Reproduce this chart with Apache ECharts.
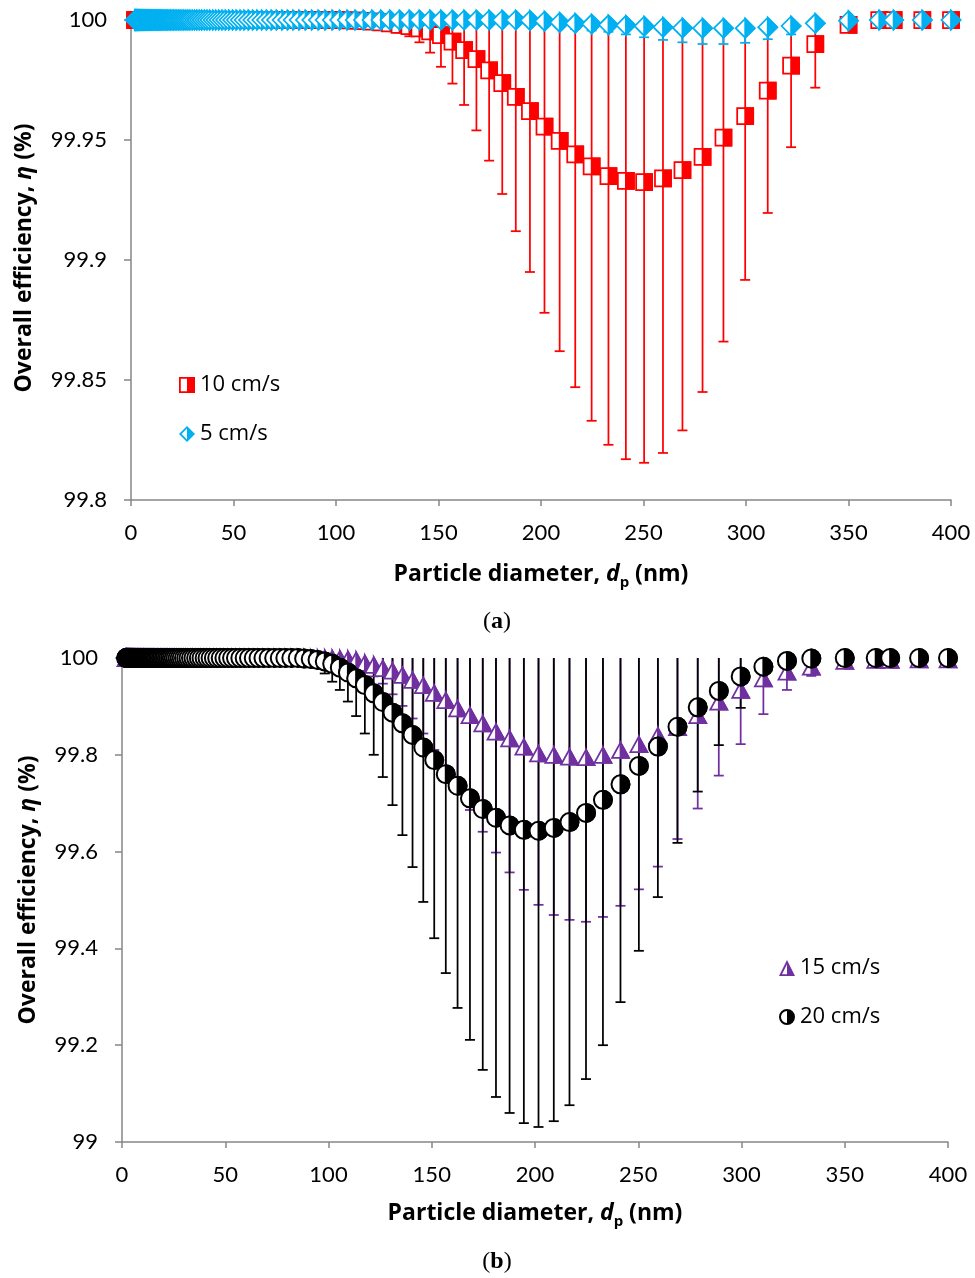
<!DOCTYPE html>
<html>
<head>
<meta charset="utf-8">
<script src="https://cdn.jsdelivr.net/npm/echarts@6/dist/echarts.min.js"></script>
<style>
  html, body { margin: 0; padding: 0; background: #fff; }
  #chart { width: 975px; height: 1278px; }
</style>
</head>
<body>
<div id="chart"></div>
<script>
// particle diameters (nm) where every series sits at 100 %
const dpLow = [
  2.02, 2.09, 2.17, 2.25, 2.33, 2.41, 2.50, 2.59, 2.69, 2.79,
  2.89, 3.00, 3.11, 3.22, 3.34, 3.46, 3.59, 3.72, 3.85, 4.00,
  4.14, 4.29, 4.45, 4.61, 4.78, 4.96, 5.14, 5.33, 5.52, 5.73,
  5.94, 6.15, 6.38, 6.61, 6.85, 7.10, 7.37, 7.64, 7.91, 8.20,
  8.51, 8.82, 9.14, 9.47, 9.82, 10.2, 10.6, 10.9, 11.3, 11.8,
  12.2, 12.6, 13.1, 13.6, 14.1, 14.6, 15.1, 15.7, 16.3, 16.8,
  17.5, 18.1, 18.8, 19.5, 20.2, 20.9, 21.7, 22.5, 23.3, 24.1,
  25.0, 25.9, 26.9, 27.9, 28.9, 30.0, 31.1, 32.2, 33.4, 34.6,
  35.9, 37.2, 38.5, 40.0, 41.4, 42.9, 44.5, 46.1, 47.8, 49.6,
  51.4, 53.3, 55.2, 57.3, 59.4, 61.5, 63.8, 66.1, 68.5, 71.0,
  73.7, 76.4, 79.1, 82.0, 85.1
];
const effLow = [
  100, 100, 100, 100, 100, 100, 100, 100, 100, 100, 100, 100, 100, 100, 100,
  100, 100, 100, 100, 100, 100, 100, 100, 100, 100, 100, 100, 100, 100, 100,
  100, 100, 100, 100, 100, 100, 100, 100, 100, 100, 100, 100, 100, 100, 100,
  100, 100, 100, 100, 100, 100, 100, 100, 100, 100, 100, 100, 100, 100, 100,
  100, 100, 100, 100, 100, 100, 100, 100, 100, 100, 100, 100, 100, 100, 100,
  100, 100, 100, 100, 100, 100, 100, 100, 100, 100, 100, 100, 100, 100, 100,
  100, 100, 100, 100, 100, 100, 100, 100, 100, 100, 100, 100, 100, 100, 100
];

// diameters (nm) of the dip region
const dpHigh = [
  88.2, 91.4, 94.7, 98.2, 101.8, 105.5, 109.4, 113.4, 117.6, 121.9,
  126.3, 131.0, 135.8, 140.7, 145.9, 151.2, 156.8, 162.5, 168.5, 174.7,
  181.1, 187.7, 194.6, 201.7, 209.1, 216.7, 224.7, 232.9, 241.4, 250.3,
  259.5, 269.0, 278.8, 289.0, 299.6, 310.6, 322.0, 333.8, 350, 365,
  372, 386, 400
];

// (a) 10 cm/s : efficiency and lower end of error bar
const eff10 = [
  100, 100, 100, 100, 99.9999, 99.9998, 99.9997, 99.9995, 99.9993, 99.999,
  99.9986, 99.998, 99.9974, 99.9965, 99.9953, 99.9937, 99.991, 99.9875, 99.9837, 99.979,
  99.9737, 99.968, 99.962, 99.9556, 99.9496, 99.944, 99.939, 99.935, 99.933, 99.9325,
  99.934, 99.9375, 99.943, 99.951, 99.96, 99.9706, 99.981, 99.99, 99.998, 100,
  100, 100, 100
];
const low10 = [
  100, 100, 100, 100, 99.9997, 99.9993, 99.9988, 99.9982, 99.9975, 99.9968,
  99.996, 99.9948, 99.9932, 99.9907, 99.9864, 99.9805, 99.9735, 99.9646, 99.954, 99.9414,
  99.9275, 99.912, 99.895, 99.878, 99.862, 99.847, 99.833, 99.823, 99.817, 99.8155,
  99.8196, 99.829, 99.845, 99.866, 99.8917, 99.9196, 99.947, 99.9718, 99.997, 100,
  100, 100, 100
];

// (a) 5 cm/s
const eff5 = [
  100, 100, 100, 100, 100, 100, 100, 100, 100, 100,
  100, 100, 100, 100, 100, 100, 100, 100, 100, 100,
  100, 100, 99.9998, 99.9995, 99.999, 99.9986, 99.9983, 99.998, 99.9978, 99.9974,
  99.997, 99.9967, 99.9966, 99.9966, 99.9966, 99.997, 99.9975, 99.9986, 99.9997, 100,
  100, 100, 100
];
const low5 = [
  100, 100, 100, 100, 100, 100, 100, 100, 100, 100,
  100, 100, 100, 100, 100, 100, 100, 100, 100, 100,
  99.9995, 99.999, 99.9985, 99.998, 99.997, 99.9962, 99.9956, 99.9951, 99.994, 99.9928,
  99.9917, 99.9907, 99.99, 99.99, 99.9905, 99.992, 99.994, 99.997, 99.9993, 100,
  100, 100, 100
];

// (b) 15 cm/s
const eff15 = [
  100, 100, 100, 100, 99.9995, 99.999, 99.998, 99.996, 99.99, 99.986,
  99.979, 99.974, 99.965, 99.955, 99.944, 99.928, 99.913, 99.896, 99.882, 99.865,
  99.848, 99.834, 99.817, 99.803, 99.8, 99.796, 99.795, 99.8, 99.81, 99.822,
  99.84, 99.857, 99.882, 99.91, 99.934, 99.958, 99.972, 99.982, 99.994, 99.996,
  99.996, 99.997, 99.997
];
const low15 = [
  100, 100, 100, 99.999, 99.998, 99.996, 99.993, 99.985, 99.975, 99.962,
  99.947, 99.925, 99.901, 99.875, 99.844, 99.81, 99.77, 99.728, 99.686, 99.641,
  99.598, 99.557, 99.521, 99.49, 99.469, 99.459, 99.455, 99.465, 99.488, 99.522,
  99.569, 99.626, 99.689, 99.757, 99.822, 99.884, 99.934, 99.963, 99.99, 99.994,
  99.994, 99.995, 99.995
];

// (b) 20 cm/s
const eff20 = [
  99.999, 99.998, 99.996, 99.993, 99.988, 99.98, 99.97, 99.958, 99.944, 99.927,
  99.909, 99.887, 99.865, 99.841, 99.815, 99.789, 99.76, 99.736, 99.71, 99.688,
  99.67, 99.654, 99.645, 99.643, 99.649, 99.661, 99.68, 99.707, 99.739, 99.777,
  99.817, 99.858, 99.898, 99.932, 99.962, 99.982, 99.994, 99.999, 100, 100,
  100, 100, 100
];
const low20 = [
  99.997, 99.993, 99.985, 99.968, 99.951, 99.934, 99.91, 99.88, 99.844, 99.8,
  99.754, 99.696, 99.634, 99.568, 99.496, 99.421, 99.349, 99.277, 99.211, 99.149,
  99.093, 99.06, 99.039, 99.031, 99.043, 99.076, 99.13, 99.2, 99.289, 99.395,
  99.506, 99.618, 99.724, 99.82, 99.897, 99.95, 99.985, 99.998, 100, 100,
  100, 100, 100
];

const xTicks = { min: 0, max: 400, interval: 50 };
const yTicksA = { min: 99.8, max: 100, interval: 0.05 };
const yTicksB = { min: 99, max: 100, interval: 0.2 };

const RED = '#FF0000', BLUE = '#00B0F0', PURPLE = '#7030A0', BLACK = '#000000';
const AXIS = '#868686';
const FONT = 'Lato, "Open Sans", sans-serif';
const TFONT = '"Open Sans", Lato, sans-serif';

function points(eff) {
  return dpLow.map((d, i) => [d, effLow[i]]).concat(dpHigh.map((d, i) => [d, eff[i]]));
}
// error bars: [d, lower, upper]; symmetric, the upper half is cut by the grid
function bars(eff, low) {
  const out = [];
  dpHigh.forEach((d, i) => {
    if (low[i] < eff[i]) out.push([d, low[i], 2 * eff[i] - low[i]]);
  });
  return out;
}

function barRender(color) {
  return function (params, api) {
    const lo = api.coord([api.value(0), api.value(1)]);
    const hi = api.coord([api.value(0), api.value(2)]);
    const st = { stroke: color, lineWidth: 1.75 };
    return {
      type: 'group',
      children: [
        { type: 'line', shape: { x1: lo[0], y1: hi[1], x2: lo[0], y2: lo[1] }, style: st },
        { type: 'line', shape: { x1: lo[0] - 5, y1: lo[1], x2: lo[0] + 5, y2: lo[1] }, style: st }
      ]
    };
  };
}

function markerRender(kind, color) {
  return function (params, api) {
    const c = api.coord([api.value(0), api.value(1)]);
    const x = c[0], y = c[1];
    const w = { stroke: color, lineWidth: 1.75, fill: '#fff' };
    const f = { stroke: color, lineWidth: 1.75, fill: color };
    let whole, half;
    if (kind === 'square') {
      whole = { type: 'rect', shape: { x: x - 8, y: y - 8, width: 16, height: 16 }, style: w };
      half = { type: 'rect', shape: { x: x, y: y - 8, width: 8, height: 16 }, style: f };
    } else if (kind === 'diamond') {
      whole = { type: 'polygon', shape: { points: [[x, y - 9.5], [x + 9.5, y], [x, y + 9.5], [x - 9.5, y]] }, style: w };
      half = { type: 'polygon', shape: { points: [[x, y - 9.5], [x + 9.5, y], [x, y + 9.5]] }, style: f };
    } else if (kind === 'triangle') {
      whole = { type: 'polygon', shape: { points: [[x, y - 7.5], [x + 8.5, y + 8], [x - 8.5, y + 8]] }, style: w };
      half = { type: 'polygon', shape: { points: [[x, y - 7.5], [x + 8.5, y + 8], [x, y + 8]] }, style: f };
    } else {
      whole = { type: 'circle', shape: { cx: x, cy: y, r: 9 }, style: { stroke: color, lineWidth: 2, fill: '#fff' } };
      half = {
        type: 'sector',
        shape: { cx: x, cy: y, r: 9, r0: 0, startAngle: -Math.PI / 2, endAngle: Math.PI / 2, clockwise: true },
        style: { stroke: color, lineWidth: 2, fill: color }
      };
    }
    return { type: 'group', children: [whole, half] };
  };
}

// legend icons: outline + filled right half (left half is a hole)
const ICON_SQ = 'path://M0,0L16,0L16,16L0,16Z M1.8,1.8L1.8,14.2L8,14.2L8,1.8Z';
const ICON_DI = 'path://M8,0L16,8L8,16L0,8Z M8,2.6L2.6,8L8,13.4Z';
const ICON_TRI = 'path://M8,0L16,16L0,16Z M8,4.2L3,14.3L8,14.3Z';
const ICON_CI = 'path://M8,0A8,8 0 1,1 8,16A8,8 0 1,1 8,0Z M8,2A6,6 0 0,0 8,14Z';

function xAxis(grid) {
  return {
    gridIndex: grid, type: 'value', min: xTicks.min, max: xTicks.max, interval: xTicks.interval,
    axisLine: { show: true, onZero: false, lineStyle: { color: AXIS, width: 1.5 } },
    axisTick: { show: true, length: 6, lineStyle: { color: AXIS, width: 1.5 } },
    axisLabel: { fontSize: 22, color: '#000', fontFamily: FONT, margin: 22 },
    splitLine: { show: false }
  };
}
function yAxis(grid, t) {
  return {
    gridIndex: grid, type: 'value', min: t.min, max: t.max, interval: t.interval,
    axisLine: { show: true, onZero: false, lineStyle: { color: AXIS, width: 1.5 } },
    axisTick: { show: true, length: 7, lineStyle: { color: AXIS, width: 1.5 } },
    axisLabel: { fontSize: 22, color: '#000', fontFamily: FONT, margin: 24,
      formatter: v => String(+v.toFixed(2)) },
    splitLine: { show: false }
  };
}

const titleRich = {
  i: { fontStyle: 'italic', fontWeight: 'bold', fontSize: 23, fontFamily: TFONT, fill: '#000', lineHeight: 32 },
  s: { fontWeight: 'bold', fontSize: 15, fontFamily: TFONT, fill: '#000', verticalAlign: 'bottom', lineHeight: 15 }
};
function label(x, y, text, rot) {
  return {
    type: 'text', x: x, y: y, rotation: rot || 0,
    style: { text: text, rich: titleRich, fontSize: 23, fontWeight: 'bold', fontFamily: TFONT,
      lineHeight: 32, fill: '#000', align: 'center', verticalAlign: 'middle' }
  };
}
function panel(x, y, letter) {
  return {
    type: 'text', x: x, y: y,
    style: { text: '({b|' + letter + '})', fontSize: 24, fontFamily: '"Liberation Serif", serif',
      fill: '#000', align: 'center', verticalAlign: 'middle',
      rich: { b: { fontSize: 24, fontWeight: 'bold', fontFamily: '"Liberation Serif", serif', fill: '#000' } } }
  };
}

const legendBase = {
  orient: 'vertical', itemGap: 27, itemWidth: 16, itemHeight: 16, selectedMode: false,
  textStyle: { fontSize: 22, color: '#000', fontFamily: TFONT }
};

const chart = echarts.init(document.getElementById('chart'), null, { renderer: 'canvas' });
chart.setOption({
  animation: false,
  backgroundColor: '#fff',
  grid: [
    { left: 131, top: 20, width: 820, height: 480 },
    { left: 122, top: 658, width: 826, height: 484 }
  ],
  xAxis: [xAxis(0), xAxis(1)],
  yAxis: [yAxis(0, yTicksA), yAxis(1, yTicksB)],
  legend: [
    Object.assign({}, legendBase, { left: 174, top: 369,
      data: [{ name: '10 cm/s', icon: ICON_SQ }, { name: '5 cm/s', icon: ICON_DI }] }),
    Object.assign({}, legendBase, { left: 774, top: 952,
      data: [{ name: '15 cm/s', icon: ICON_TRI }, { name: '20 cm/s', icon: ICON_CI }] })
  ],
  graphic: [
    label(541, 574, 'Particle diameter, {i|d}{s|p} (nm)'),
    label(24, 258, 'Overall efficiency, {i|η} (%)', Math.PI / 2),
    panel(497, 622, 'a'),
    label(535, 1213, 'Particle diameter, {i|d}{s|p} (nm)'),
    label(28, 890, 'Overall efficiency, {i|η} (%)', Math.PI / 2),
    panel(497, 1262, 'b')
  ],
  series: [
    { type: 'custom', name: 'err10', xAxisIndex: 0, yAxisIndex: 0, clip: true,
      renderItem: barRender(RED), data: bars(eff10, low10), encode: { x: 0, y: [1, 2] } },
    { type: 'custom', name: 'err5', xAxisIndex: 0, yAxisIndex: 0, clip: true,
      renderItem: barRender(BLUE), data: bars(eff5, low5), encode: { x: 0, y: [1, 2] } },
    { type: 'custom', name: '10 cm/s', xAxisIndex: 0, yAxisIndex: 0, itemStyle: { color: RED },
      renderItem: markerRender('square', RED), data: points(eff10), encode: { x: 0, y: 1 } },
    { type: 'custom', name: '5 cm/s', xAxisIndex: 0, yAxisIndex: 0, itemStyle: { color: BLUE },
      renderItem: markerRender('diamond', BLUE), data: points(eff5), encode: { x: 0, y: 1 } },

    { type: 'custom', name: 'err15', xAxisIndex: 1, yAxisIndex: 1, clip: true,
      renderItem: barRender(PURPLE), data: bars(eff15, low15), encode: { x: 0, y: [1, 2] } },
    { type: 'custom', name: 'err20', xAxisIndex: 1, yAxisIndex: 1, clip: true,
      renderItem: barRender(BLACK), data: bars(eff20, low20), encode: { x: 0, y: [1, 2] } },
    { type: 'custom', name: '15 cm/s', xAxisIndex: 1, yAxisIndex: 1, itemStyle: { color: PURPLE },
      renderItem: markerRender('triangle', PURPLE), data: points(eff15), encode: { x: 0, y: 1 } },
    { type: 'custom', name: '20 cm/s', xAxisIndex: 1, yAxisIndex: 1, itemStyle: { color: BLACK },
      renderItem: markerRender('circle', BLACK), data: points(eff20), encode: { x: 0, y: 1 } }
  ]
});
</script>
</body>
</html>
